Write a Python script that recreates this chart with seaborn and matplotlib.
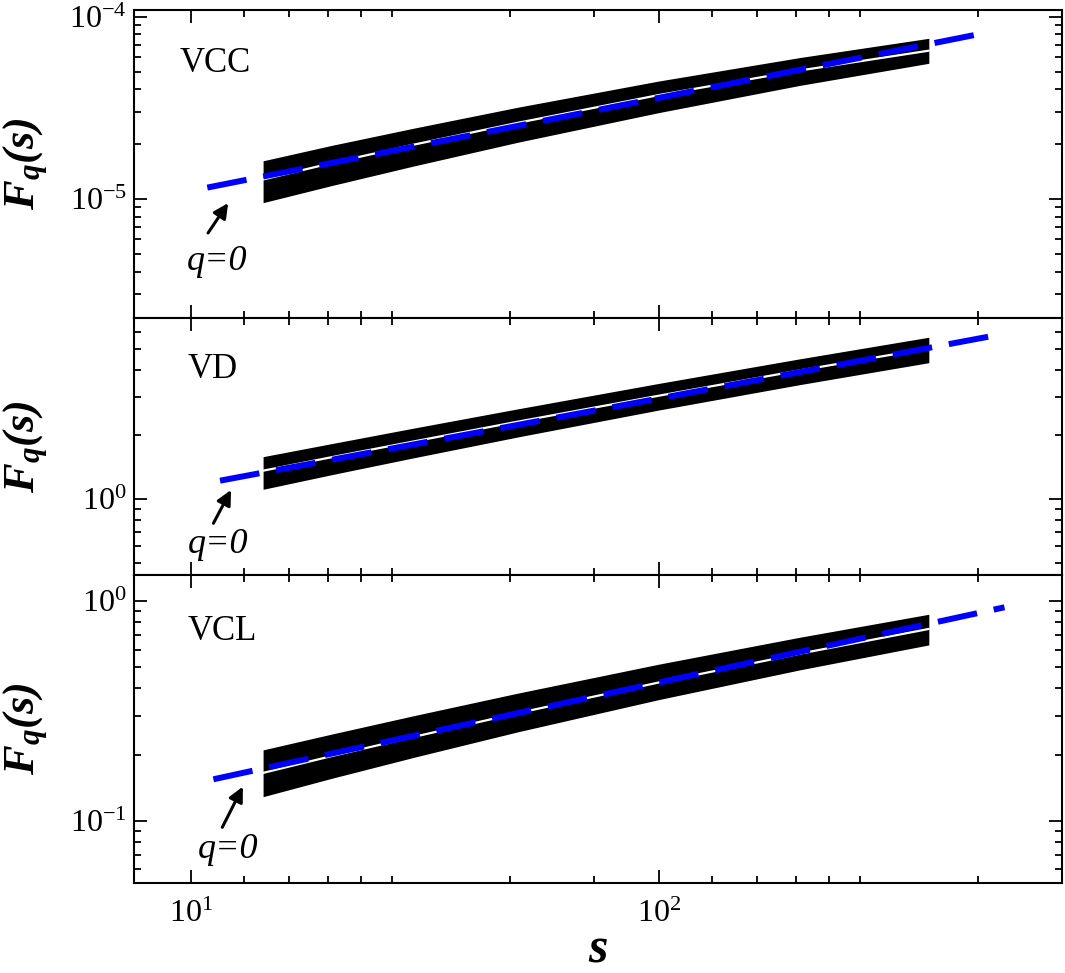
import numpy as np
import pandas as pd
import seaborn as sns
import matplotlib.pyplot as plt
from matplotlib.ticker import LogLocator, FixedLocator, NullFormatter

# --- s where the F_q(s) band is drawn ---
s_band = [14.25, 20, 30, 50, 100, 200, 377]

# --- VCC: band envelope (largest q / smallest q) and the q=0 curve ---
vcc_upper = [1.62e-5, 1.97e-5, 2.45e-5, 3.19e-5, 4.44e-5, 5.97e-5, 7.61e-5]
vcc_q0 = [1.28e-5, 1.575e-5, 1.99e-5, 2.62e-5, 3.72e-5, 5.07e-5, 6.51e-5]
vcc_lower = [9.55e-6, 1.186e-5, 1.52e-5, 2.05e-5, 2.98e-5, 4.2e-5, 5.55e-5]

# --- VD ---
vd_upper = [1.577, 1.816, 2.147, 2.64, 3.47, 4.52, 5.70]
vd_q0 = [1.356, 1.569, 1.86, 2.30, 3.04, 3.99, 5.06]
vd_lower = [1.110, 1.300, 1.56, 1.951, 2.606, 3.424, 4.335]

# --- VCL ---
vcl_upper = [0.210, 0.248, 0.301, 0.381, 0.516, 0.684, 0.870]
vcl_q0 = [0.165, 0.197, 0.241, 0.309, 0.426, 0.576, 0.746]
vcl_lower = [0.1286, 0.156, 0.1945, 0.254, 0.356, 0.486, 0.631]

# --- power-law fit for q=0 (end points) ---
s_fit_vcc = [10.83, 480]
F_fit_vcc = [1.155e-5, 8.0e-5]
s_fit_vd = [11.53, 529]
F_fit_vd = [1.218, 5.84]
s_fit_vcl = [11.16, 547]
F_fit_vcl = [0.1543, 0.936]

# --- minor ticks on the s axis, as in the original ---
x_minor = [13.0, 16.2, 19.6, 23.1, 26.9, 48, 72.6, 130, 162, 196, 231, 269, 480]

sns.set_theme(style="ticks")
plt.rcParams['font.family'] = ['Liberation Serif', 'DejaVu Serif']
plt.rcParams['mathtext.fontset'] = 'custom'
plt.rcParams['mathtext.rm'] = 'Liberation Serif'
plt.rcParams['mathtext.it'] = 'Liberation Serif:italic'
plt.rcParams['mathtext.bf'] = 'Liberation Serif:bold:italic'
plt.rcParams['text.color'] = 'black'
plt.rcParams['axes.labelcolor'] = 'black'

paineis = [
    dict(nome='VCC', up=vcc_upper, q0=vcc_q0, lo=vcc_lower, sf=s_fit_vcc, ff=F_fit_vcc,
         ylim=(2.225e-6, 1.088e-4), lab=(0.0496, 0.799),
         seta=((12.0, 9.5e-6), (10.87, 6.51e-6)), txt=(11.35, 4.08e-6)),
    dict(nome='VD', up=vd_upper, q0=vd_q0, lo=vd_lower, sf=s_fit_vd, ff=F_fit_vd,
         ylim=(0.4415, 7.01), lab=(0.0579, 0.765),
         seta=((12.17, 1.102), (11.16, 0.770)), txt=(11.44, 0.5576)),
    dict(nome='VCL', up=vcl_upper, q0=vcl_q0, lo=vcl_lower, sf=s_fit_vcl, ff=F_fit_vcl,
         ylim=(0.05204, 1.313), lab=(0.0579, 0.789),
         seta=((12.9, 0.1428), (11.66, 0.0933)), txt=(12.01, 0.0674)),
]

fig, axes = plt.subplots(3, 1, figsize=(10.65, 9.73), dpi=100, sharex=True,
                         gridspec_kw={'height_ratios': [308, 257, 308], 'hspace': 0})
fig.subplots_adjust(left=0.1258, right=0.9972, top=1 - 10 / 973, bottom=90 / 973)

for ax, p in zip(axes, paineis):
    ax.set_xscale('log')
    ax.set_yscale('log')

    df = pd.DataFrame({'s': s_band, 'upper': p['up'], 'q0': p['q0'], 'lower': p['lo']})
    ax.fill_between(df['s'], df['lower'], df['upper'], color='black', lw=0, zorder=2)
    sns.lineplot(data=df, x='s', y='q0', ax=ax, color='white', lw=1.6, zorder=3)

    fit = pd.DataFrame({'s': p['sf'], 'F': p['ff']})
    sns.lineplot(data=fit, x='s', y='F', ax=ax, color='blue', lw=4.3, zorder=4)
    ax.lines[-1].set_dashes((6.7, 2.85))
    ax.lines[-1].set_dash_capstyle('butt')

    ax.set_xlim(7.55, 726)
    ax.set_ylim(*p['ylim'])

    ax.yaxis.set_major_locator(LogLocator(base=10, numticks=20))
    ax.yaxis.set_minor_locator(LogLocator(base=10, subs=np.arange(2, 10), numticks=20))
    ax.yaxis.set_minor_formatter(NullFormatter())

    ax.tick_params(which='both', direction='in', top=True, right=True,
                   width=1.3, color='black', labelsize=23, labelcolor='black')
    ax.tick_params(which='major', length=9.5)
    ax.tick_params(which='minor', length=5)
    ax.tick_params(axis='y', pad=5)
    ax.tick_params(axis='x', pad=12)
    for sp in ax.spines.values():
        sp.set_linewidth(1.5)
        sp.set_color('black')

    ax.text(p['lab'][0], p['lab'][1], p['nome'], transform=ax.transAxes,
            fontsize=25, va='baseline', ha='left')

    # seta "q=0"
    ax.annotate('', xy=p['seta'][0], xytext=p['seta'][1],
                arrowprops=dict(arrowstyle='-|>', color='black', lw=2.2,
                                mutation_scale=22, shrinkA=0, shrinkB=0))
    ax.text(p['txt'][0], p['txt'][1], 'q=0', fontsize=26, fontstyle='italic',
            ha='center', va='baseline')

    ax.set_ylabel(r'$\mathbf{F_q(s)}$', fontsize=32)
    ax.yaxis.set_label_coords(-0.090, 0.5)
    ax.set_xlabel('')

axes[0].xaxis.set_major_locator(LogLocator(base=10, numticks=20))
axes[0].xaxis.set_minor_locator(FixedLocator(x_minor))
axes[0].xaxis.set_minor_formatter(NullFormatter())
for ax in axes[:2]:
    ax.tick_params(axis='x', labelbottom=False)

axes[2].set_xlabel('s', fontsize=36, fontweight='bold', fontstyle='italic',
                   va='baseline')
axes[2].xaxis.set_label_coords(0.5, -0.258)

plt.savefig('out.png', dpi=100)
plt.close()
